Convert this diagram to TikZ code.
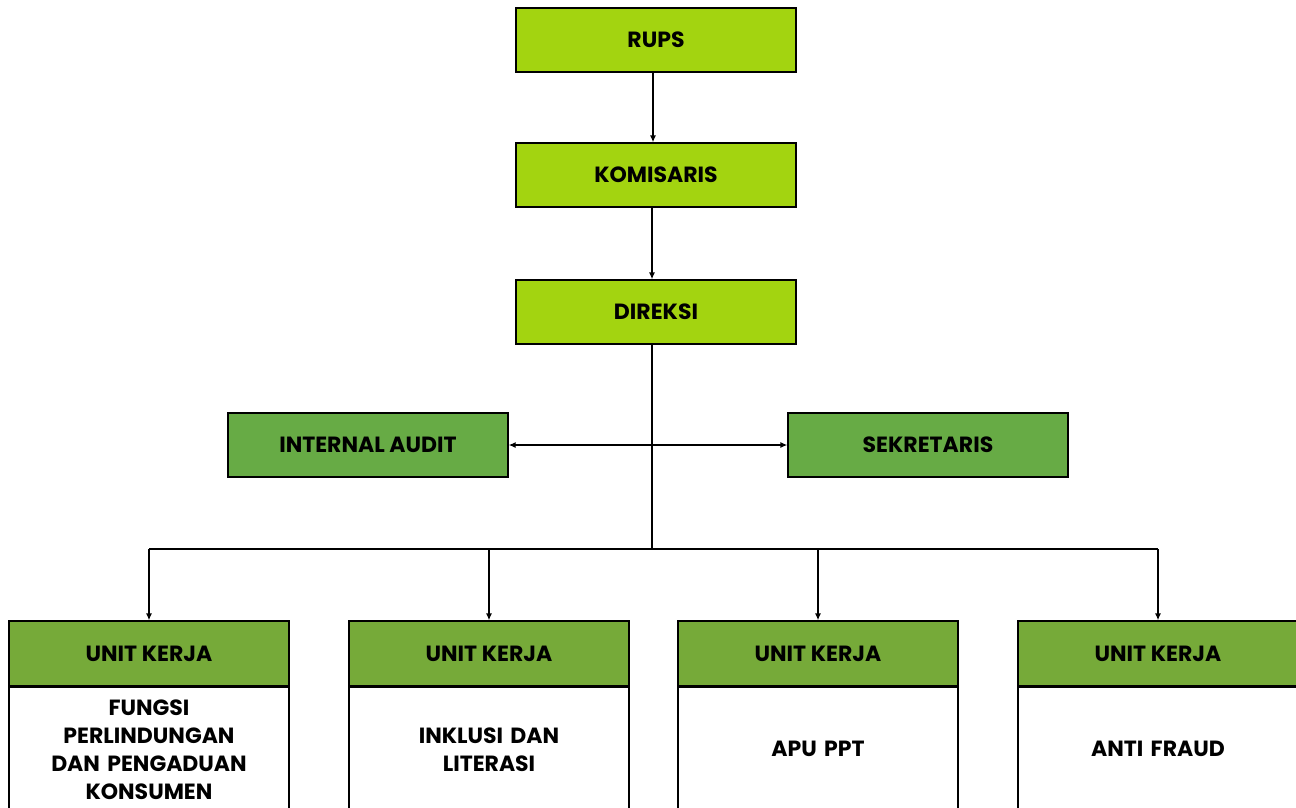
\documentclass[tikz,border=0pt]{standalone}
\usepackage{fontspec}
\setmainfont{Poppins}
\usetikzlibrary{arrows.meta,positioning}
\definecolor{limegreen}{RGB}{163,212,16}
\definecolor{sidegreen}{RGB}{103,171,69}
\definecolor{unitgreen}{RGB}{118,170,57}
\tikzstyle{arrow} = [line width=1.3pt,->,>={Latex[length=7pt,width=6pt]}]

\begin{document}
\begin{tikzpicture}[x=1pt,y=-1pt]
                \tikzstyle{topbox}=[draw,line width=1.3pt,fill=limegreen,minimum width=280pt,minimum height=64pt,font=\bfseries\fontsize{22}{28}\selectfont]
                \tikzstyle{sidebox}=[topbox,fill=sidegreen]
                \tikzstyle{unithead}=[topbox,fill=unitgreen,minimum height=65pt]
                \tikzstyle{unitbody}=[topbox,fill=white,minimum height=124pt,text width=250pt,align=center]

                \useasboundingbox (0,0) rectangle (1296,807);
                \clip (0,0) rectangle (1296,807);

                \node [topbox] (rups) at (656,40) {RUPS};
                \node [topbox] (komisaris) at (656,175) {KOMISARIS};
                \node [topbox] (direksi) at (656,312) {DIREKSI};
                \node [sidebox] (audit) at (368,445) {INTERNAL AUDIT};
                \node [sidebox] (sekretaris) at (928,445) {SEKRETARIS};

                \foreach \i/\x/\txt in {1/149/{FUNGSI\\PERLINDUNGAN\\DAN PENGADUAN\\KONSUMEN},
                    2/489/{INKLUSI DAN\\LITERASI}, 3/818/{APU PPT}, 4/1158/{ANTI FRAUD}} {
                    \node [unithead] (head\i) at (\x,653.5) {UNIT KERJA};
                    \node [unitbody, below=0pt of head\i] (body\i) {\txt};
                }

                \coordinate (bus) at (652,549);
                \draw [arrow] ([xshift=-3pt]rups.south) -- ([xshift=-3pt]komisaris.north);
                \draw [arrow] ([xshift=-4pt]komisaris.south) -- ([xshift=-4pt]direksi.north);
                \draw [line width=1.3pt] (direksi.south -| bus) -- (bus);
                \draw [arrow,<->] (audit) -- (sekretaris);
                \draw [line width=1.3pt] (head1.north |- bus) -- (head4.north |- bus);
                \foreach \i in {1,...,4}
                    \draw [arrow] (head\i.north |- bus) -- (head\i.north);
            \end{tikzpicture}
\end{document}
